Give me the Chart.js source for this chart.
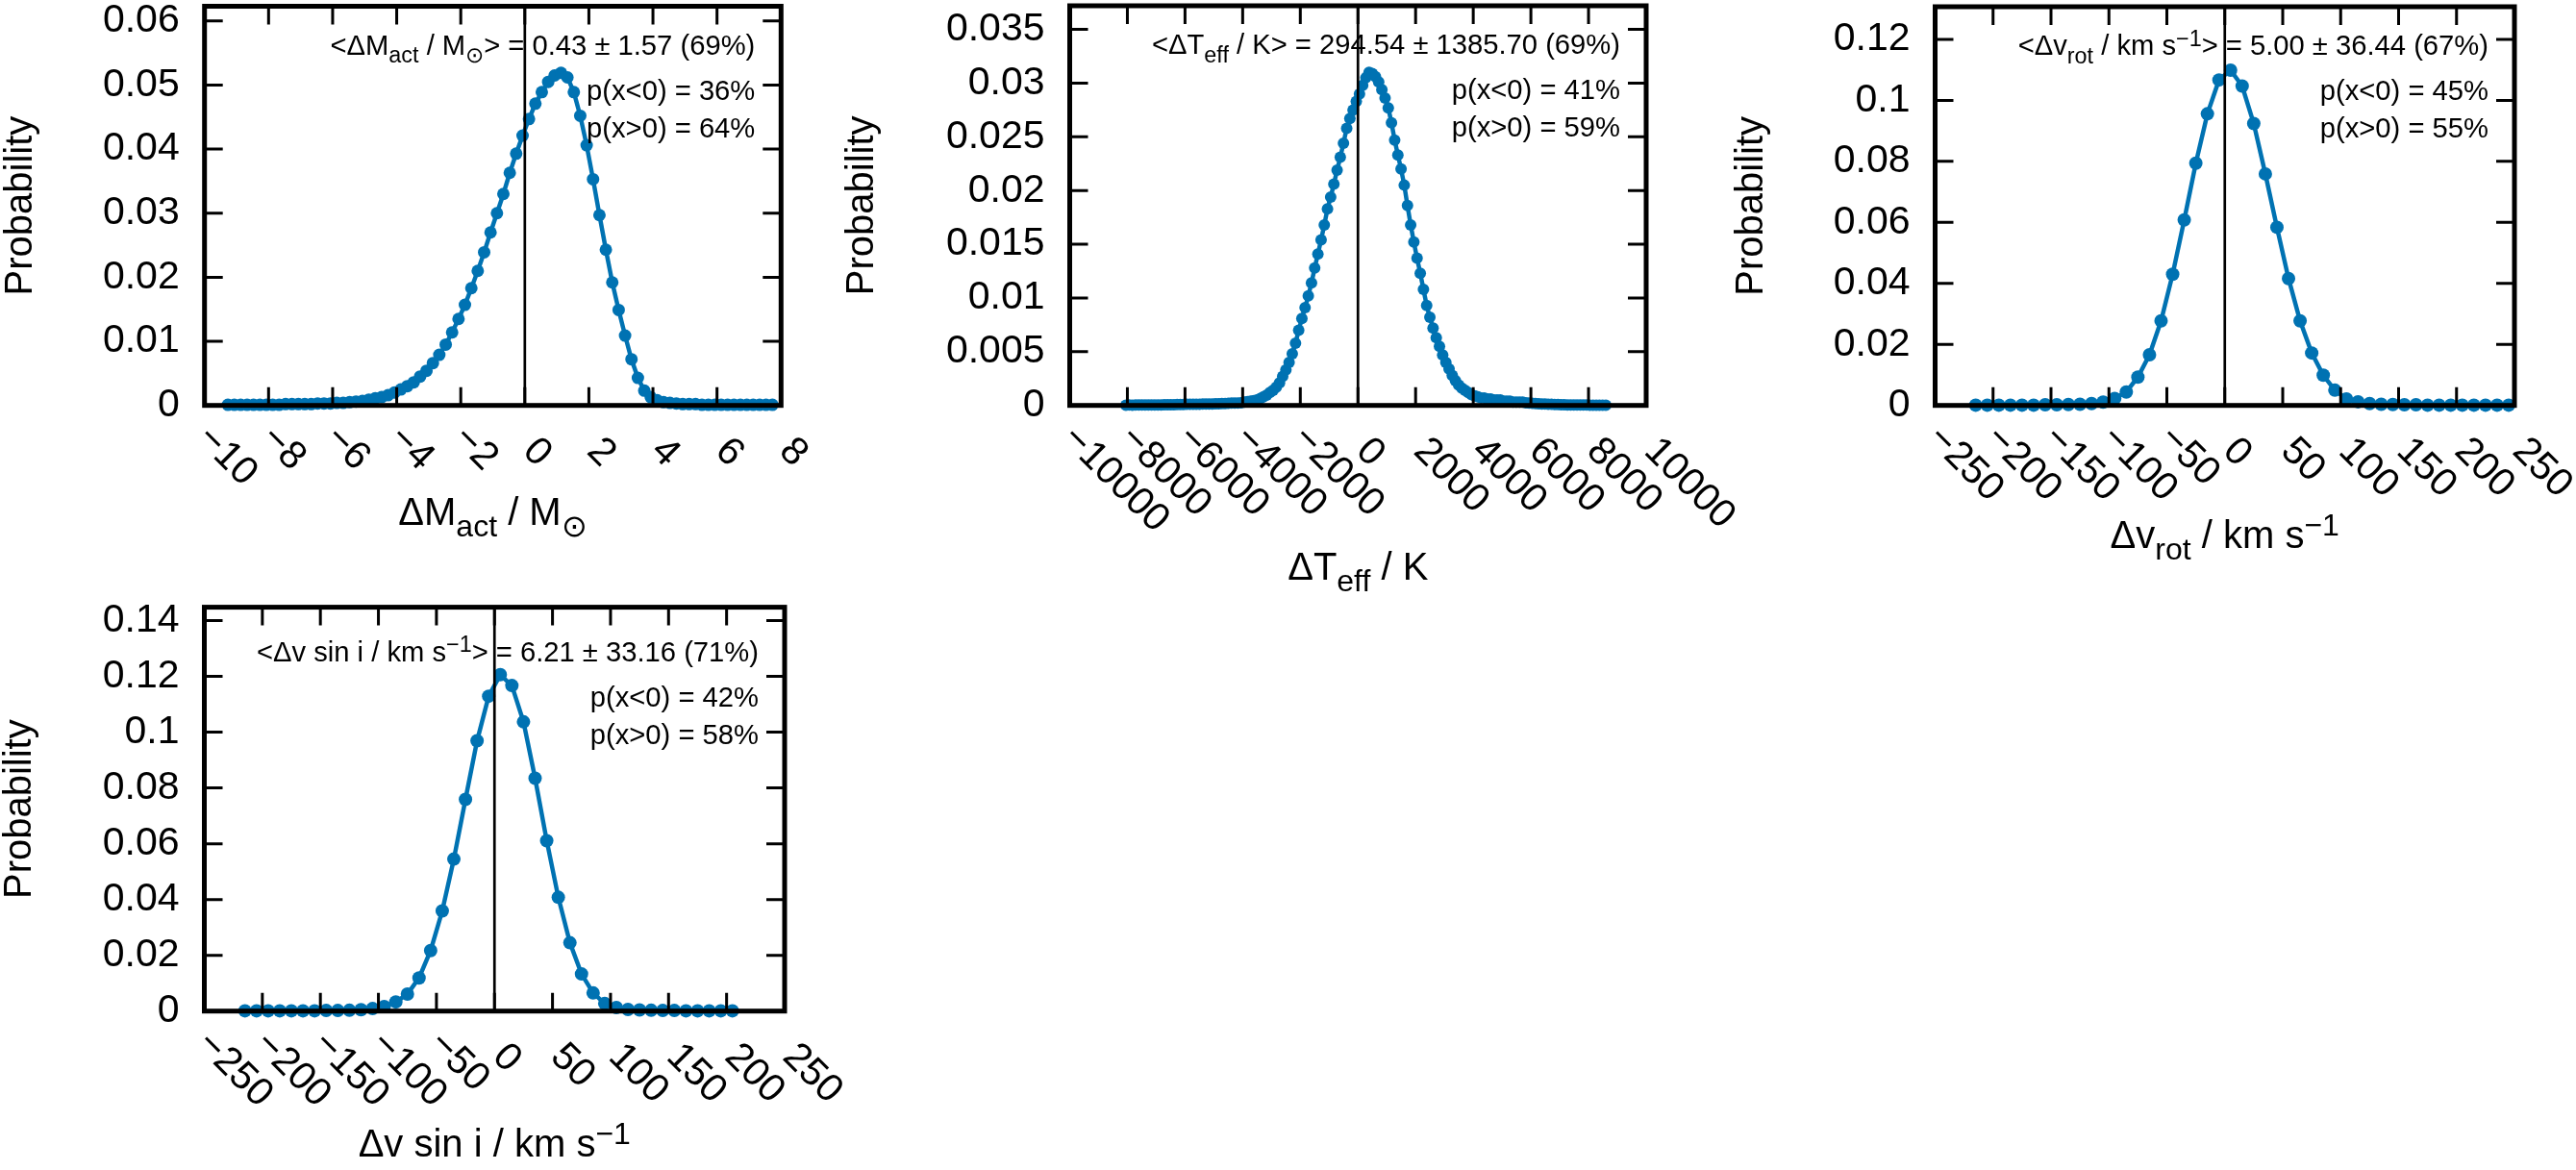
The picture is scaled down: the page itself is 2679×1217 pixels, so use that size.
<!DOCTYPE html>
<html>
<head>
<meta charset="utf-8">
<title>Posterior differences</title>
<script src="https://cdn.jsdelivr.net/npm/chart.js@4.4.1/dist/chart.umd.min.js"></script>
<style>
  html, body { margin: 0; padding: 0; background: #fff; }
  #wrap { position: relative; width: 2679px; height: 1217px; overflow: hidden; }
  #wrap canvas { position: absolute; left: 0; top: 0; }
</style>
</head>
<body>
<div id="wrap"></div>
<script>
// ---- data ----
const massX = [-9.27, -9.07, -8.87, -8.67, -8.47, -8.27, -8.07, -7.87, -7.67, -7.47,
  -7.27, -7.07, -6.87, -6.67, -6.47, -6.27, -6.07, -5.87, -5.67, -5.47,
  -5.27, -5.07, -4.87, -4.67, -4.47, -4.27, -4.07, -3.87, -3.67, -3.47,
  -3.27, -3.07, -2.87, -2.67, -2.47, -2.27, -2.07, -1.87, -1.67, -1.47,
  -1.27, -1.07, -0.87, -0.67, -0.47, -0.27, -0.07, 0.13, 0.33, 0.53,
  0.73, 0.93, 1.13, 1.33, 1.53, 1.73, 1.93, 2.13, 2.33, 2.53,
  2.73, 2.93, 3.13, 3.33, 3.53, 3.73, 3.93, 4.13, 4.33, 4.53,
  4.73, 4.93, 5.13, 5.33, 5.53, 5.73, 5.93, 6.13, 6.33, 6.53,
  6.73, 6.93, 7.13, 7.33, 7.53, 7.73];
const massP = [0.0001, 0.0001, 0.0001, 0.0001, 0.0001, 0.0001, 0.0001, 0.0001, 0.0001, 0.0002,
  0.0002, 0.0002, 0.0002, 0.0002, 0.0003, 0.0003, 0.0003, 0.0004, 0.0004, 0.0005,
  0.0006, 0.0007, 0.0009, 0.0011, 0.0013, 0.0016, 0.0020, 0.0025, 0.0030, 0.0036,
  0.0045, 0.0054, 0.0066, 0.0079, 0.0095, 0.0114, 0.0135, 0.0157, 0.0183, 0.0210,
  0.0239, 0.0270, 0.0300, 0.0330, 0.0363, 0.0393, 0.0421, 0.0447, 0.0471, 0.0489,
  0.0505, 0.0515, 0.0519, 0.0512, 0.0489, 0.0452, 0.0406, 0.0353, 0.0297, 0.0243,
  0.0192, 0.0149, 0.0109, 0.0072, 0.0043, 0.0023, 0.0013, 0.0008, 0.0005, 0.0004,
  0.0003, 0.0002, 0.0002, 0.0002, 0.0001, 0.0001, 0.0001, 0.0001, 0.0001, 0.0001,
  0.0001, 0.0001, 0.0001, 0.0001, 0.0001, 0.0001];

const teffX = [-8050, -7939, -7828, -7717, -7606, -7495, -7384, -7273, -7162, -7051,
  -6940, -6829, -6718, -6607, -6496, -6385, -6274, -6163, -6052, -5941,
  -5830, -5719, -5608, -5497, -5386, -5275, -5164, -5053, -4942, -4831,
  -4720, -4609, -4498, -4387, -4276, -4165, -4054, -3943, -3832, -3721,
  -3610, -3499, -3388, -3277, -3166, -3055, -2944, -2833, -2722, -2611,
  -2500, -2389, -2278, -2167, -2056, -1945, -1834, -1723, -1612, -1501,
  -1390, -1279, -1168, -1057, -946, -835, -724, -613, -502, -391,
  -280, -169, -58, 53, 164, 275, 386, 497, 608, 719,
  830, 941, 1052, 1163, 1274, 1385, 1496, 1607, 1718, 1829,
  1940, 2051, 2162, 2273, 2384, 2495, 2606, 2717, 2828, 2939,
  3050, 3161, 3272, 3383, 3494, 3605, 3716, 3827, 3938, 4049,
  4160, 4271, 4382, 4493, 4604, 4715, 4826, 4937, 5048, 5159,
  5270, 5381, 5492, 5603, 5714, 5825, 5936, 6047, 6158, 6269,
  6380, 6491, 6602, 6713, 6824, 6935, 7046, 7157, 7268, 7379,
  7490, 7601, 7712, 7823, 7934, 8045, 8156, 8267, 8378, 8489, 8600];
const teffP = [0.00002, 0.00003, 0.00002, 0.00003, 0.00003, 0.00004, 0.00003, 0.00004, 0.00004, 0.00005,
  0.00005, 0.00005, 0.00006, 0.00006, 0.00007, 0.00007, 0.00008, 0.00008, 0.00009, 0.0001,
  0.0001, 0.0001, 0.0001, 0.00011, 0.00012, 0.00012, 0.00013, 0.00014, 0.00015, 0.00016,
  0.00017, 0.00018, 0.0002, 0.00021, 0.00022, 0.00023, 0.00025, 0.0003, 0.00035, 0.0004,
  0.00045, 0.0005, 0.00065, 0.0008, 0.00095, 0.0012, 0.0014, 0.0017, 0.0021, 0.0027,
  0.0033, 0.0040, 0.0048, 0.0058, 0.0070, 0.0081, 0.0091, 0.0102, 0.0114, 0.0128,
  0.0141, 0.0154, 0.0168, 0.0183, 0.0194, 0.0206, 0.0219, 0.0231, 0.0244, 0.0258,
  0.0267, 0.0275, 0.0283, 0.0290, 0.0298, 0.0305, 0.0310, 0.0309, 0.0306, 0.0301,
  0.0294, 0.0286, 0.0277, 0.0263, 0.0247, 0.0233, 0.0220, 0.0205, 0.0186, 0.0168,
  0.0152, 0.0137, 0.0123, 0.0108, 0.0093, 0.0082, 0.0072, 0.0063, 0.0055, 0.0047,
  0.0040, 0.0034, 0.0028, 0.0023, 0.0019, 0.0016, 0.0014, 0.0012, 0.0010, 0.0009,
  0.0008, 0.0007, 0.0007, 0.0006, 0.0006, 0.0005, 0.0005, 0.0005, 0.0004, 0.0004,
  0.0004, 0.0003, 0.0003, 0.0003, 0.0003, 0.00025, 0.00022, 0.0002, 0.00018, 0.00016,
  0.00014, 0.00012, 0.0001, 0.0001, 0.00009, 0.00008, 0.00007, 0.00006, 0.00005, 0.00005,
  0.00004, 0.00004, 0.00003, 0.00003, 0.00003, 0.00002, 0.00002, 0.00002, 0.00002, 0.00001, 0.00001];

const vrotX = [-215, -205, -195, -185, -175, -165, -155, -145, -135, -125, -115,
  -105, -95, -85, -75, -65, -55, -45, -35, -25, -15, -5,
  5, 15, 25, 35, 45, 55, 65, 75, 85, 95, 105, 115,
  125, 135, 145, 155, 165, 175, 185, 195, 205, 215, 225, 235, 245];
const vrotP = [0.0001, 0.0001, 0.0001, 0.0001, 0.0001, 0.0001, 0.0002, 0.0002, 0.0003, 0.0004, 0.0006,
  0.0011, 0.0023, 0.0044, 0.0093, 0.0166, 0.0277, 0.0430, 0.0608, 0.0794, 0.0956, 0.1067,
  0.1099, 0.1047, 0.0924, 0.0759, 0.0584, 0.0416, 0.0277, 0.0172, 0.0099, 0.0050, 0.0021, 0.0012,
  0.0006, 0.0004, 0.0003, 0.0002, 0.0002, 0.0001, 0.0001, 0.0001, 0.0001, 0.0001, 0.0001, 0.0001, 0.0001];

const vsiniX = [-215, -205, -195, -185, -175, -165, -155, -145, -135, -125, -115,
  -105, -95, -85, -75, -65, -55, -45, -35, -25, -15, -5,
  5, 15, 25, 35, 45, 55, 65, 75, 85, 95, 105, 115,
  125, 135, 145, 155, 165, 175, 185, 195, 205];
const vsiniP = [0.0001, 0.0001, 0.0001, 0.0001, 0.0001, 0.0001, 0.0001, 0.0002, 0.0002, 0.0003, 0.0005,
  0.0009, 0.0016, 0.0033, 0.0061, 0.0119, 0.0217, 0.0359, 0.0545, 0.0759, 0.0969, 0.1129,
  0.1206, 0.1167, 0.1037, 0.0835, 0.0611, 0.0408, 0.0245, 0.0133, 0.0065, 0.0027, 0.0013, 0.0006,
  0.0004, 0.0003, 0.0002, 0.0002, 0.0001, 0.0001, 0.0001, 0.0001, 0.0001];

// summary text per panel: [mean line tail, p(x<0), p(x>0)]
const massNote = ['> = 0.43 ± 1.57 (69%)', 'p(x<0) = 36%', 'p(x>0) = 64%'];
const teffNote = [' / K> = 294.54 ± 1385.70 (69%)', 'p(x<0) = 41%', 'p(x>0) = 59%'];
const vrotNote = ['> = 5.00 ± 36.44 (67%)', 'p(x<0) = 45%', 'p(x>0) = 55%'];
const vsiniNote = ['> = 6.21 ± 33.16 (71%)', 'p(x<0) = 42%', 'p(x>0) = 58%'];

// ---- styling / layout ----
const W = 2679, H = 1217;
const BLUE = '#0072b2';
const FONT = '"Liberation Sans", Arial, Helvetica, sans-serif';
const TICK_PX = 41, TITLE_PX = 40, NOTE_PX = 29.2;

const panels = [
  {
    xs: massX, ys: massP, xMin: -10, xMax: 8, xStep: 2, yMax: 0.0623, yStep: 0.01,
    box: { l: 212.7, t: 4.5, r: 812.3, b: 421.7 }, radius: 6.5, noteDy: 0,
    xTitle: [['ΔM'], ['act', 'sub'], [' / M'], ['⊙', 'sub']], xTitleY: 546, yTitleX: 33,
    noteHead: [['<ΔM'], ['act', 'sub'], [' / M'], ['⊙', 'sub']], note: massNote
  },
  {
    xs: teffX, ys: teffP, xMin: -10000, xMax: 10000, xStep: 2000, yMax: 0.0372, yStep: 0.005,
    box: { l: 1112.5, t: 4.5, r: 1712, b: 421.7 }, radius: 6, noteDy: 0,
    xTitle: [['ΔT'], ['eff', 'sub'], [' / K']], xTitleY: 603, yTitleX: 907.7,
    noteHead: [['<ΔT'], ['eff', 'sub']], note: teffNote
  },
  {
    xs: vrotX, ys: vrotP, xMin: -250, xMax: 250, xStep: 50, yMax: 0.1307, yStep: 0.02,
    box: { l: 2012.5, t: 4.5, r: 2615, b: 421.7 }, radius: 7, noteDy: 0,
    xTitle: [['Δv'], ['rot', 'sub'], [' / km s'], ['−1', 'sup']], xTitleY: 570, yTitleX: 1833.4,
    noteHead: [['<Δv'], ['rot', 'sub'], [' / km s'], ['−1', 'sup']], note: vrotNote
  },
  {
    xs: vsiniX, ys: vsiniP, xMin: -250, xMax: 250, xStep: 50, yMax: 0.1448, yStep: 0.02,
    box: { l: 212.5, t: 631.6, r: 816, b: 1051.7 }, radius: 7, noteDy: 6,
    xTitle: [['Δv sin i / km s'], ['−1', 'sup']], xTitleY: 1203, yTitleX: 31.7,
    noteHead: [['<Δv sin i / km s'], ['−1', 'sup']], note: vsiniNote
  }
];

function onStep(v, step) {
  return Math.abs(v / step - Math.round(v / step)) < 1e-6;
}

function tickText(v, step) {
  const s = parseFloat((Math.round(v / step) * step).toFixed(6)).toString();
  return s.charAt(0) === '-' ? '−' + s.slice(1) : s;
}

// enhanced-text style runs: [text, 'sub' | 'sup' | undefined]
function richWidth(ctx, segs, size) {
  let w = 0;
  segs.forEach(([t, kind]) => {
    ctx.font = (kind ? size * 0.8 : size) + 'px ' + FONT;
    w += ctx.measureText(t).width;
  });
  return w;
}

function drawRich(ctx, segs, x, y, size, align) {
  const w = richWidth(ctx, segs, size);
  let cx = align === 'right' ? x - w : align === 'center' ? x - w / 2 : x;
  ctx.textAlign = 'left';
  ctx.textBaseline = 'alphabetic';
  segs.forEach(([t, kind]) => {
    ctx.font = (kind ? size * 0.8 : size) + 'px ' + FONT;
    const dy = kind === 'sub' ? size * 0.3 : kind === 'sup' ? -size * 0.32 : 0;
    ctx.fillText(t, cx, y + dy);
    cx += ctx.measureText(t).width;
  });
}

// gnuplot-like frame: mirrored inward ticks, heavy border, zero line, labels
function frame(p) {
  return {
    id: 'frame',
    afterDatasetsDraw(chart) {
      const { ctx, chartArea: a } = chart;
      const x = chart.scales.x, y = chart.scales.y;
      ctx.save();
      ctx.strokeStyle = '#000';
      ctx.fillStyle = '#000';

      // x = 0 marker
      const x0 = x.getPixelForValue(0);
      ctx.lineWidth = 2.7;
      ctx.beginPath();
      ctx.moveTo(x0, a.top);
      ctx.lineTo(x0, a.bottom);
      ctx.stroke();

      // inward ticks on all four sides
      const len = 19;
      ctx.lineWidth = 3;
      ctx.beginPath();
      x.ticks.forEach(t => {
        if (!onStep(t.value, p.xStep) || t.value <= p.xMin || t.value >= p.xMax) return;
        const px = x.getPixelForValue(t.value);
        ctx.moveTo(px, a.bottom); ctx.lineTo(px, a.bottom - len);
        ctx.moveTo(px, a.top); ctx.lineTo(px, a.top + len);
      });
      y.ticks.forEach(t => {
        if (!onStep(t.value, p.yStep) || t.value <= 0 || t.value >= p.yMax) return;
        const py = y.getPixelForValue(t.value);
        ctx.moveTo(a.left, py); ctx.lineTo(a.left + len, py);
        ctx.moveTo(a.right, py); ctx.lineTo(a.right - len, py);
      });
      ctx.stroke();

      ctx.lineWidth = 5;
      ctx.strokeRect(a.left, a.top, a.right - a.left, a.bottom - a.top);

      // y tick labels
      ctx.font = TICK_PX + 'px ' + FONT;
      ctx.textAlign = 'right';
      ctx.textBaseline = 'middle';
      y.ticks.forEach(t => {
        if (!onStep(t.value, p.yStep) || t.value > p.yMax) return;
        ctx.fillText(tickText(t.value, p.yStep), a.left - 26, y.getPixelForValue(t.value));
      });

      // x tick labels, rotated by -45 (clockwise on screen)
      ctx.textAlign = 'left';
      x.ticks.forEach(t => {
        if (!onStep(t.value, p.xStep)) return;
        const s = tickText(t.value, p.xStep);
        const px = x.getPixelForValue(t.value);
        const neg = s.charAt(0) === '−';
        ctx.save();
        ctx.translate(px + (neg ? -1.5 : 4.5), a.bottom + (neg ? 28 : 41));
        ctx.rotate(Math.PI / 4);
        ctx.fillText(s, 0, 0);
        ctx.restore();
      });

      // axis titles
      drawRich(ctx, p.xTitle, (a.left + a.right) / 2, p.xTitleY, TITLE_PX, 'center');
      ctx.save();
      ctx.translate(p.yTitleX, (a.top + a.bottom) / 2);
      ctx.rotate(-Math.PI / 2);
      ctx.font = TITLE_PX + 'px ' + FONT;
      ctx.textAlign = 'center';
      ctx.textBaseline = 'alphabetic';
      ctx.fillText('Probability', 0, 0);
      ctx.restore();

      // summary statistics
      const rx = a.right - 27;
      const ty = a.top + p.noteDy;
      drawRich(ctx, p.noteHead.concat([[p.note[0]]]), rx, ty + 50, NOTE_PX, 'right');
      drawRich(ctx, [[p.note[1]]], rx, ty + 97, NOTE_PX, 'right');
      drawRich(ctx, [[p.note[2]]], rx, ty + 136, NOTE_PX, 'right');

      ctx.restore();
    }
  };
}

const wrap = document.getElementById('wrap');

panels.forEach(p => {
  const canvas = document.createElement('canvas');
  canvas.width = W;
  canvas.height = H;
  wrap.appendChild(canvas);

  new Chart(canvas, {
    type: 'line',
    data: {
      datasets: [{
        data: p.xs.map((v, i) => ({ x: v, y: p.ys[i] })),
        borderColor: BLUE,
        backgroundColor: BLUE,
        pointBackgroundColor: BLUE,
        pointBorderWidth: 0,
        pointRadius: p.radius,
        pointHoverRadius: p.radius,
        borderWidth: 4.5,
        tension: 0,
        clip: false
      }]
    },
    options: {
      responsive: false,
      animation: false,
      devicePixelRatio: 1,
      events: [],
      layout: {
        padding: { left: p.box.l, top: p.box.t, right: W - p.box.r, bottom: H - p.box.b }
      },
      plugins: { legend: { display: false }, tooltip: { enabled: false } },
      scales: {
        x: {
          type: 'linear', min: p.xMin, max: p.xMax,
          ticks: { stepSize: p.xStep, display: false },
          grid: { display: false }, border: { display: false },
          afterFit: s => { s.height = 0; }
        },
        y: {
          type: 'linear', min: 0, max: p.yMax,
          ticks: { stepSize: p.yStep, display: false },
          grid: { display: false }, border: { display: false },
          afterFit: s => { s.width = 0; }
        }
      }
    },
    plugins: [frame(p)]
  });
});
</script>
</body>
</html>
